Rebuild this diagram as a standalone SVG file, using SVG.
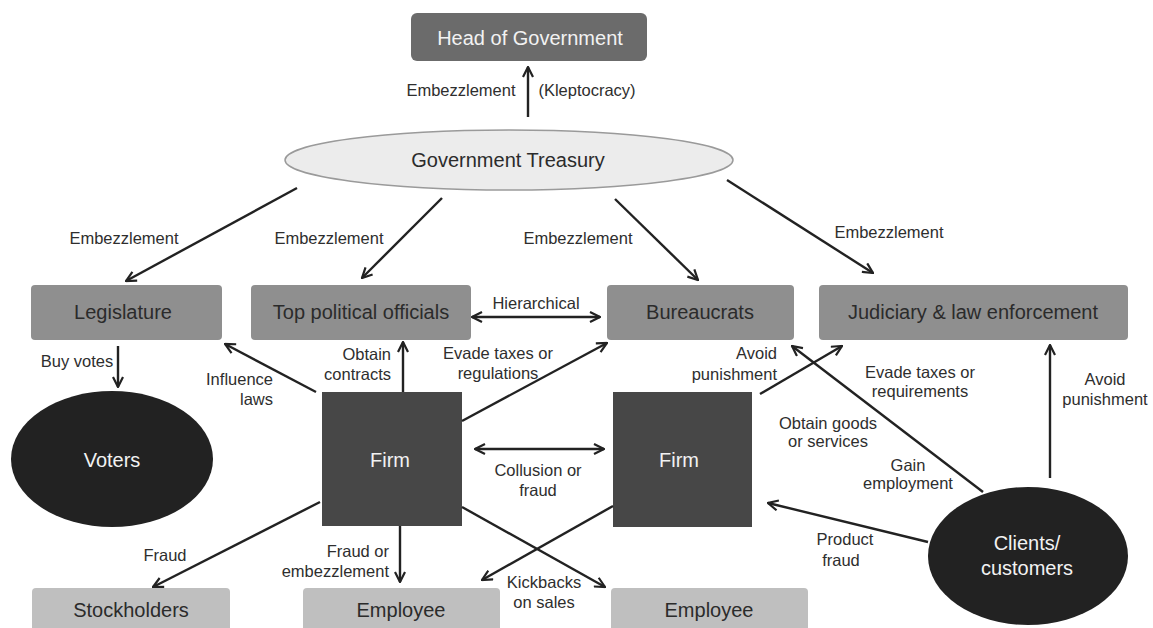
<svg xmlns="http://www.w3.org/2000/svg" width="1153" height="628" viewBox="0 0 1153 628">
  <style>
    .lbl { font-family: "Liberation Sans", Arial, sans-serif; font-size: 16.5px; fill: #2e2e2e; }
    .nt { font-family: "Liberation Sans", Arial, sans-serif; font-size: 20px; text-anchor: middle; }
    .dark-t { fill: #2b2b2b; }
    .light-t { fill: #f2f2f2; }
    .mid { text-anchor: middle; }
    .end { text-anchor: end; }
    .box-head { fill: #6b6b6b; }
    .box-mid { fill: #8f8f8f; }
    .box-low { fill: #bfbfbf; }
    .firm { fill: #474747; }
    .blob { fill: #222222; }
    .edge { stroke: #222; stroke-width: 2.4; fill: none; marker-end: url(#tip); }
    .both { marker-start: url(#tip); }
  </style>
  <defs>
    <marker id="tip" viewBox="0 0 12 12" refX="11" refY="6" markerWidth="12" markerHeight="12" markerUnits="userSpaceOnUse" orient="auto-start-reverse">
      <path d="M1,1 L11,6 L1,11" fill="none" stroke="#222" stroke-width="2.2" stroke-linejoin="miter"/>
    </marker>
  </defs>
  <rect width="1153" height="628" fill="#ffffff"/>

  <!-- nodes -->
  <g id="head-of-government">
    <rect class="box-head" x="411" y="13" width="236" height="48" rx="6"/>
    <text class="nt light-t" x="530" y="45">Head of Government</text>
  </g>
  <g id="government-treasury">
    <ellipse cx="509" cy="160" rx="224" ry="30" fill="#ececec" stroke="#9a9a9a" stroke-width="1.5"/>
    <text class="nt dark-t" x="508" y="167">Government Treasury</text>
  </g>
  <g id="legislature">
    <rect class="box-mid" x="31" y="285" width="191" height="55" rx="4"/>
    <text class="nt dark-t" x="123" y="319">Legislature</text>
  </g>
  <g id="top-political-officials">
    <rect class="box-mid" x="251" y="285" width="220" height="55" rx="4"/>
    <text class="nt dark-t" x="361" y="319">Top political officials</text>
  </g>
  <g id="bureaucrats">
    <rect class="box-mid" x="607" y="285" width="187" height="55" rx="4"/>
    <text class="nt dark-t" x="700" y="319">Bureaucrats</text>
  </g>
  <g id="judiciary">
    <rect class="box-mid" x="819" y="285" width="309" height="55" rx="4"/>
    <text class="nt dark-t" x="973" y="319">Judiciary &amp; law enforcement</text>
  </g>
  <g id="voters">
    <ellipse class="blob" cx="112" cy="459" rx="101" ry="68"/>
    <text class="nt light-t" x="112" y="467">Voters</text>
  </g>
  <g id="firm-a">
    <rect class="firm" x="322" y="392" width="140" height="134"/>
    <text class="nt light-t" x="390" y="467">Firm</text>
  </g>
  <g id="firm-b">
    <rect class="firm" x="613" y="392" width="139" height="135"/>
    <text class="nt light-t" x="679" y="467">Firm</text>
  </g>
  <g id="clients">
    <ellipse class="blob" cx="1028" cy="556" rx="100" ry="69"/>
    <text class="nt light-t" x="1027" y="550">Clients/</text>
    <text class="nt light-t" x="1027" y="575">customers</text>
  </g>
  <g id="stockholders">
    <rect class="box-low" x="32" y="588" width="198" height="50" rx="4"/>
    <text class="nt dark-t" x="131" y="617">Stockholders</text>
  </g>
  <g id="employee-a">
    <rect class="box-low" x="303" y="588" width="197" height="50" rx="4"/>
    <text class="nt dark-t" x="401" y="617">Employee</text>
  </g>
  <g id="employee-b">
    <rect class="box-low" x="611" y="588" width="197" height="50" rx="4"/>
    <text class="nt dark-t" x="709" y="617">Employee</text>
  </g>

  <!-- connectors -->
  <g id="connectors">
    <line class="edge" x1="528" y1="117" x2="528" y2="67"/>
    <line class="edge" x1="297" y1="188" x2="126" y2="281"/>
    <line class="edge" x1="442" y1="198" x2="362" y2="278"/>
    <line class="edge" x1="615" y1="199" x2="698" y2="280"/>
    <line class="edge" x1="727" y1="180" x2="873" y2="273"/>
    <line class="edge both" x1="472" y1="317" x2="600" y2="317"/>
    <line class="edge" x1="118" y1="346" x2="118" y2="387"/>
    <line class="edge" x1="316" y1="392" x2="225" y2="344"/>
    <line class="edge" x1="403" y1="392" x2="403" y2="342"/>
    <line class="edge" x1="462" y1="421" x2="607" y2="343"/>
    <line class="edge both" x1="475" y1="449" x2="604" y2="449"/>
    <line class="edge" x1="760" y1="394" x2="842" y2="346"/>
    <line class="edge" x1="983" y1="492" x2="792" y2="346"/>
    <line class="edge" x1="1050" y1="478" x2="1050" y2="345"/>
    <line class="edge" x1="928" y1="542" x2="768" y2="503"/>
    <line class="edge" x1="320" y1="502" x2="153" y2="587"/>
    <line class="edge" x1="400" y1="526" x2="400" y2="582"/>
    <line class="edge" x1="462" y1="507" x2="605" y2="587"/>
    <line class="edge" x1="613" y1="506" x2="482" y2="580"/>
  </g>

  <!-- connector labels -->
  <g id="labels">
    <text class="lbl mid" x="461" y="96">Embezzlement</text>
    <text class="lbl mid" x="587" y="96">(Kleptocracy)</text>
    <text class="lbl mid" x="124" y="244">Embezzlement</text>
    <text class="lbl mid" x="329" y="244">Embezzlement</text>
    <text class="lbl mid" x="578" y="244">Embezzlement</text>
    <text class="lbl mid" x="889" y="238">Embezzlement</text>
    <text class="lbl mid" x="536" y="309">Hierarchical</text>
    <text class="lbl mid" x="77" y="367">Buy votes</text>
    <text class="lbl end" x="273" y="385">Influence</text>
    <text class="lbl end" x="273" y="405">laws</text>
    <text class="lbl end" x="391" y="360">Obtain</text>
    <text class="lbl end" x="391" y="380">contracts</text>
    <text class="lbl mid" x="498" y="359">Evade taxes or</text>
    <text class="lbl mid" x="498" y="379">regulations</text>
    <text class="lbl end" x="777" y="359">Avoid</text>
    <text class="lbl end" x="777" y="380">punishment</text>
    <text class="lbl mid" x="920" y="378">Evade taxes or</text>
    <text class="lbl mid" x="920" y="397">requirements</text>
    <text class="lbl mid" x="1105" y="385">Avoid</text>
    <text class="lbl mid" x="1105" y="405">punishment</text>
    <text class="lbl mid" x="828" y="429">Obtain goods</text>
    <text class="lbl mid" x="828" y="447">or services</text>
    <text class="lbl mid" x="908" y="471">Gain</text>
    <text class="lbl mid" x="908" y="489">employment</text>
    <text class="lbl mid" x="538" y="476">Collusion or</text>
    <text class="lbl mid" x="538" y="496">fraud</text>
    <text class="lbl mid" x="845" y="545">Product</text>
    <text class="lbl mid" x="841" y="566">fraud</text>
    <text class="lbl mid" x="165" y="561">Fraud</text>
    <text class="lbl end" x="389" y="557">Fraud or</text>
    <text class="lbl end" x="389" y="577">embezzlement</text>
    <text class="lbl mid" x="544" y="588">Kickbacks</text>
    <text class="lbl mid" x="544" y="608">on sales</text>
  </g>
</svg>
